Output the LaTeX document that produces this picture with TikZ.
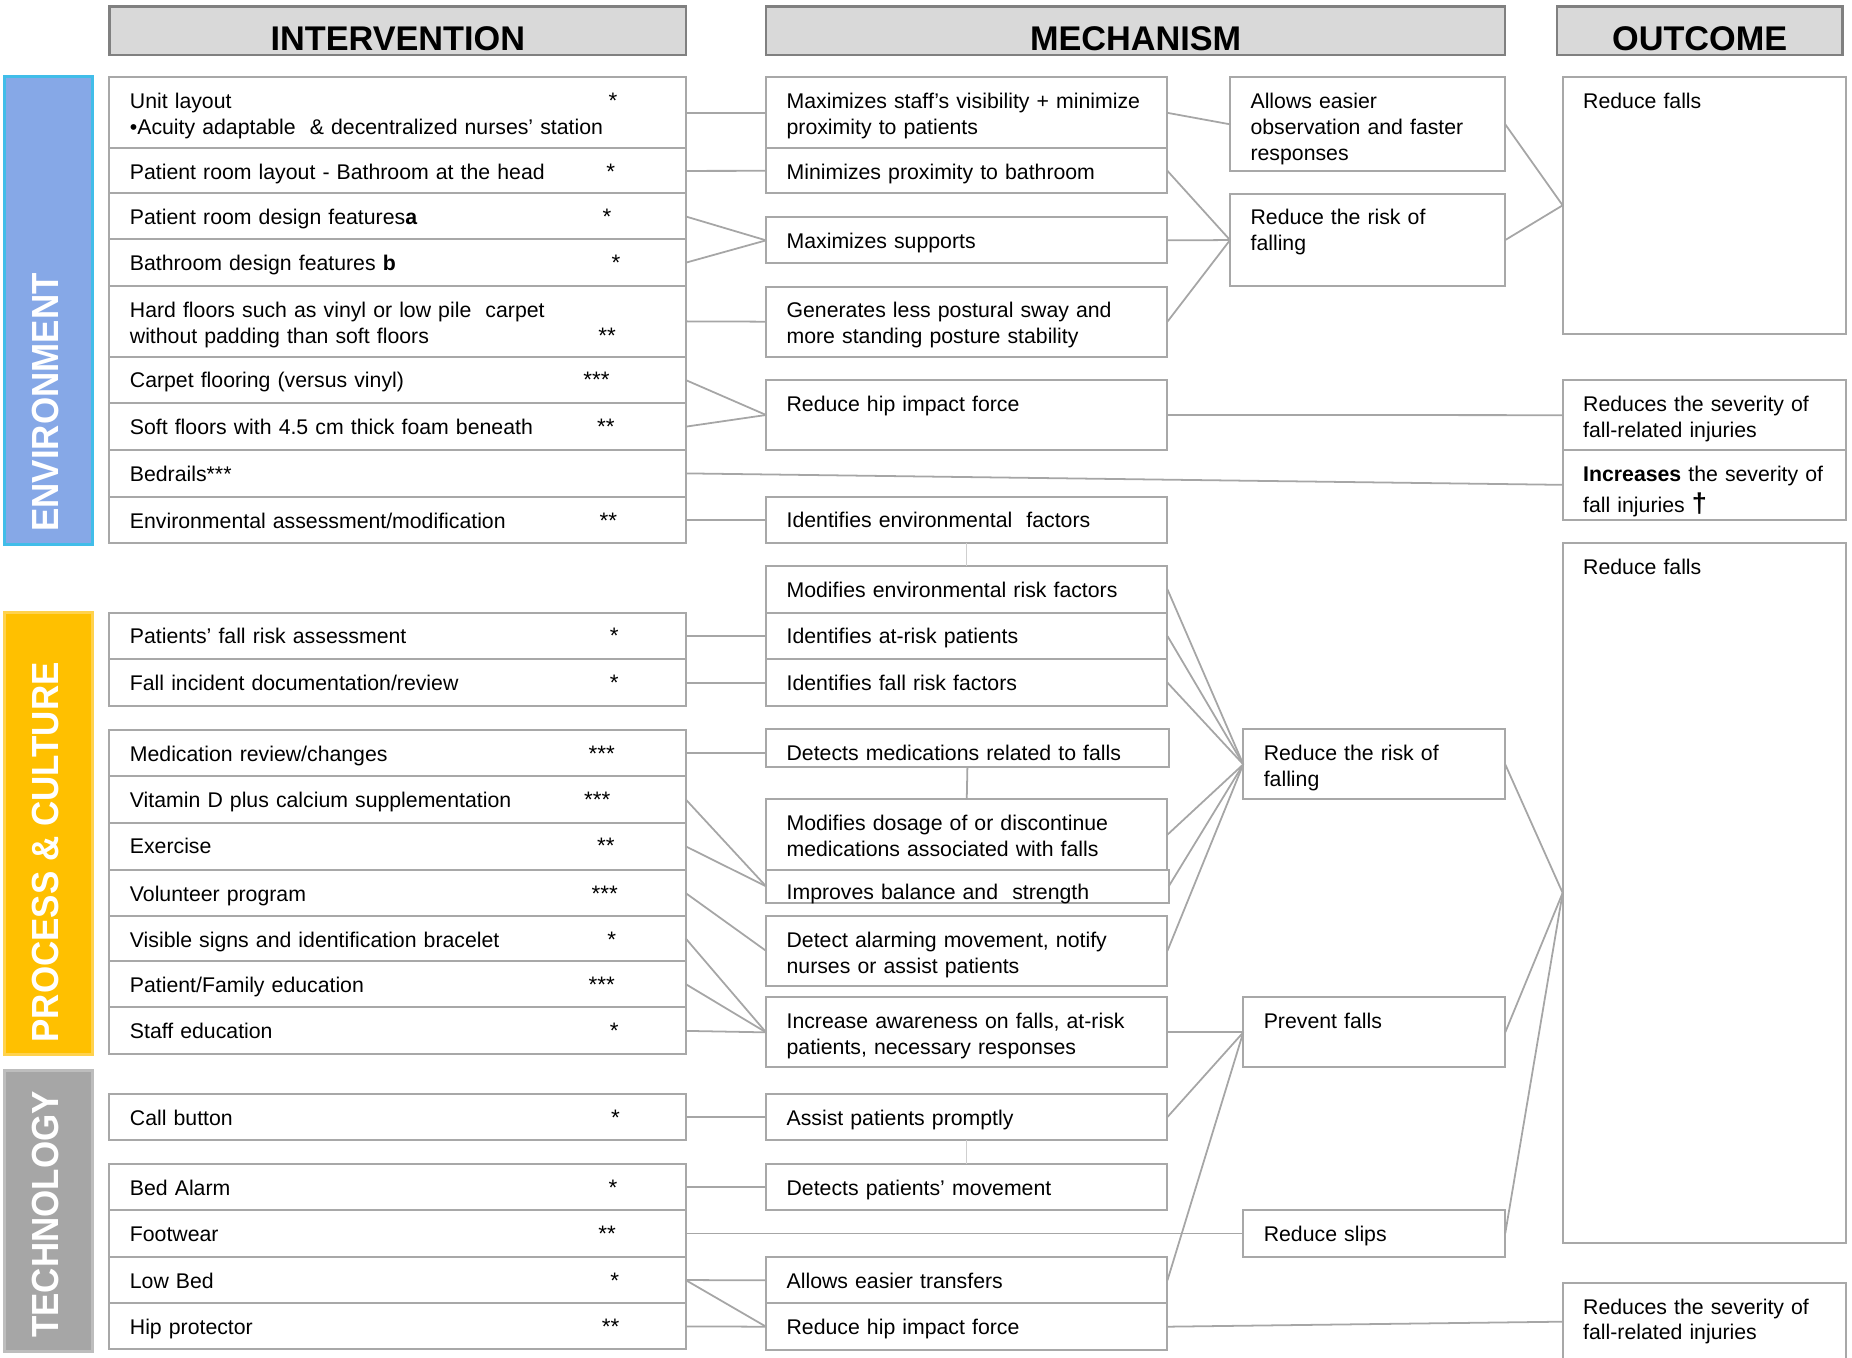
\documentclass[tikz,border=0pt]{standalone}
\usepackage{fontspec}
\setmainfont{Liberation Sans}
\usetikzlibrary{fit}
\definecolor{boxgray}{HTML}{A8A8A8}
\definecolor{linegray}{HTML}{A6A6A6}
\definecolor{lightline}{HTML}{CFCFCF}
\definecolor{hdrfill}{HTML}{D9D9D9}
\definecolor{hdrdraw}{HTML}{808080}
\definecolor{envfill}{HTML}{86A8E7}
\definecolor{envdraw}{HTML}{41BDE9}
\definecolor{procfill}{HTML}{FFC000}
\definecolor{procdraw}{HTML}{FFD24D}
\definecolor{techfill}{HTML}{A6A6A6}
\definecolor{techdraw}{HTML}{BDBDBD}
\newcommand\mkbox[6]{\node[box, fit={(#2,#3) (#4,#5)}] (#1) {};\node[txt] at ([shift={(17.4,26.5)}]#1.north west) {#6};}
\newcommand\mkstar[3]{\node[startxt] at (#1,#2) {#3};}
\begin{document}
\begin{tikzpicture}[x=0.5pt,y=-0.5pt,
  box/.style={draw=boxgray, line width=0.85pt, inner sep=0pt, outer sep=0pt, fill=white},
  txt/.style={anchor=base west, inner sep=0pt, outer sep=0pt, text width=240pt, align=left, font=\fontsize{9}{11}\selectfont},
  startxt/.style={anchor=base, inner sep=0pt, outer sep=0pt, font=\fontsize{9.5}{11}\selectfont},
  hdr/.style={draw=hdrdraw, fill=hdrfill, line width=1pt, inner sep=0pt, outer sep=0pt},
  hdrtxt/.style={anchor=base, inner sep=0pt, font=\fontsize{14.5}{17}\selectfont\bfseries},
  cat/.style={line width=1.2pt, inner sep=0pt, outer sep=0pt},
  cattxt/.style={rotate=90, anchor=west, inner sep=0pt, text=white, yscale=1.08, font=\fontsize{14.8}{17}\selectfont\bfseries},
  conn/.style={draw=linegray, line width=0.75pt},
  lconn/.style={draw=lightline, line width=0.6pt}]
\useasboundingbox (0,0) rectangle (1568,1149);
\clip (0,0) rectangle (1568,1149);

% headers
\node[hdr, fit={(92.6,5.6) (581,46.6)}] (H1) {};
\node[hdr, fit={(648.6,5.6) (1274.4,46.6)}] (H2) {};
\node[hdr, fit={(1318,5.6) (1560,46.6)}] (H3) {};
\node[hdrtxt] at ([shift={(0,-3.6)}]H1.south) {INTERVENTION};
\node[hdrtxt] at ([shift={(0,-3.6)}]H2.south) {MECHANISM};
\node[hdrtxt] at ([shift={(0,-3.6)}]H3.south) {OUTCOME};

% category bars
\node[cat, draw=envdraw, fill=envfill, fit={(3.8,65) (78,461)}] (B1) {};
\node[cat, draw=procdraw, fill=procfill, fit={(3.8,518.7) (78,893)}] (B2) {};
\node[cat, draw=techdraw, fill=techfill, fit={(3.8,906) (78,1144)}] (B3) {};
\node[cattxt] at (38.5,450.5) {ENVIRONMENT};
\node[cattxt] at (38.5,883) {PROCESS \& CULTURE};
\node[cattxt] at (38.5,1133) {TECHNOLOGY};

% intervention boxes
\mkbox{I1}{92.6}{65.5}{580.5}{125.6}{Unit layout\\•Acuity adaptable~ \& decentralized nurses’ station}
\mkbox{I2}{92.6}{125.6}{580.5}{163.8}{Patient room layout - Bathroom at the head}
\mkbox{I3}{92.6}{163.8}{580.5}{202.7}{Patient room design features\textbf{a}}
\mkbox{I4}{92.6}{202.7}{580.5}{242.2}{Bathroom design features \textbf{b}}
\mkbox{I5}{92.6}{242.2}{580.5}{302}{Hard floors such as vinyl or low pile~ carpet\\without padding than soft floors}
\mkbox{I6}{92.6}{302}{580.5}{341.5}{Carpet flooring (versus vinyl)}
\mkbox{I7}{92.6}{341.5}{580.5}{381}{Soft floors with 4.5 cm thick foam beneath}
\mkbox{I8}{92.6}{381}{580.5}{420.6}{Bedrails***}
\mkbox{I9}{92.6}{420.6}{580.5}{460}{Environmental assessment/modification}
\mkbox{I10}{92.6}{518.7}{580.5}{558.2}{Patients’ fall risk assessment}
\mkbox{I11}{92.6}{558.2}{580.5}{597.7}{Fall incident documentation/review}
\mkbox{I12}{92.6}{618}{580.5}{657}{Medication review/changes}
\mkbox{I13}{92.6}{657}{580.5}{696.5}{Vitamin D plus calcium supplementation}
\mkbox{I14}{92.6}{696.5}{580.5}{736.6}{Exercise}
\mkbox{I15}{92.6}{736.6}{580.5}{775.6}{Volunteer program}
\mkbox{I16}{92.6}{775.6}{580.5}{813.4}{Visible signs and identification bracelet}
\mkbox{I17}{92.6}{813.4}{580.5}{852.9}{Patient/Family education}
\mkbox{I18}{92.6}{852.9}{580.5}{892.7}{Staff education}
\mkbox{I19}{92.6}{926.3}{580.5}{965.2}{Call button}
\mkbox{I20}{92.6}{985.5}{580.5}{1024.5}{Bed Alarm}
\mkbox{I21}{92.6}{1024.5}{580.5}{1064}{Footwear}
\mkbox{I22}{92.6}{1064}{580.5}{1103.5}{Low Bed}
\mkbox{I23}{92.6}{1103.5}{580.5}{1142.5}{Hip protector}

% stars
\mkstar{519}{92}{*}
\mkstar{517}{152.1}{*}
\mkstar{514}{190.3}{*}
\mkstar{521.6}{229.2}{*}
\mkstar{514}{290.7}{**}
\mkstar{505}{328.5}{***}
\mkstar{513}{368}{**}
\mkstar{515}{447.1}{**}
\mkstar{520}{545.2}{*}
\mkstar{520}{584.7}{*}
\mkstar{509.5}{644.5}{***}
\mkstar{505.7}{683.5}{***}
\mkstar{513}{723}{**}
\mkstar{512}{763.1}{***}
\mkstar{518}{802.1}{*}
\mkstar{509.5}{839.9}{***}
\mkstar{520}{879.4}{*}
\mkstar{521}{952.8}{*}
\mkstar{519}{1012}{*}
\mkstar{514}{1051}{**}
\mkstar{520.5}{1090.5}{*}
\mkstar{517}{1130}{**}

% mechanism boxes
\mkbox{M1}{648.6}{65.5}{988.4}{125.6}{Maximizes staff’s visibility + minimize\\proximity to patients}
\mkbox{M2}{648.6}{125.6}{988.4}{163.7}{Minimizes proximity to bathroom}
\mkbox{M3}{648.6}{184}{988.4}{223}{Maximizes supports}
\mkbox{M4}{648.6}{242.7}{988.4}{302}{Generates less postural sway and\\more standing posture stability}
\mkbox{M5}{648.6}{321.7}{988.4}{381}{Reduce hip impact force}
\mkbox{M6}{648.6}{420.5}{988.4}{460}{Identifies environmental~ factors}
\mkbox{M7}{648.6}{479.2}{988.4}{518.7}{Modifies environmental risk factors}
\mkbox{M8}{648.6}{518.7}{988.4}{558.2}{Identifies at-risk patients}
\mkbox{M9}{648.6}{558.2}{988.4}{597.7}{Identifies fall risk factors}
\mkbox{M10}{648.6}{617.5}{989.5}{649.7}{Detects medications related to falls}
\mkbox{M11}{648.6}{676.8}{988.4}{736.6}{Modifies dosage of or discontinue\\medications associated with falls}
\node[box, fit={(648.6,736.6) (989.5,764.2)}] (M12) {};
\node[txt] at ([shift={(17.4,25)}]M12.north west) {Improves balance and~ strength};
\mkbox{M13}{648.6}{775.6}{988.4}{834.5}{Detect alarming movement, notify\\nurses or assist patients}
\mkbox{M14}{648.6}{844.4}{988.4}{903.7}{Increase awareness on falls, at-risk\\patients, necessary responses}
\mkbox{M15}{648.6}{926.3}{988.4}{965.2}{Assist patients promptly}
\mkbox{M16}{648.6}{985.5}{988.4}{1024.5}{Detects patients’ movement}
\mkbox{M17}{648.6}{1064.5}{988.4}{1103.5}{Allows easier transfers}
\mkbox{M18}{648.6}{1103.5}{988.4}{1143}{Reduce hip impact force}

% second mechanism column
\mkbox{N1}{1041.4}{65.5}{1274.4}{145}{Allows easier\\observation and faster\\responses}
\mkbox{N2}{1041.4}{164}{1274.4}{242.5}{Reduce the risk of\\falling}
\mkbox{N3}{1052.6}{617.5}{1274.4}{676.8}{Reduce the risk of\\falling}
\mkbox{N4}{1052.6}{844.4}{1274.4}{903.7}{Prevent falls}
\mkbox{N5}{1052.6}{1024.5}{1274.4}{1064}{Reduce slips}

% outcome boxes
\mkbox{O1}{1323}{65}{1563}{282.7}{Reduce falls}
\mkbox{O2}{1323}{322}{1563}{381}{Reduces the severity of\\fall-related injuries}
\mkbox{O3}{1323}{381}{1563}{440}{\textbf{Increases} the severity of\\[2pt]fall injuries {\fontsize{11.5}{11}\selectfont\textbf{†}}}
\mkbox{O4}{1323}{460}{1563}{1052}{Reduce falls}
\mkbox{O5}{1323}{1086}{1563}{1152}{Reduces the severity of\\fall-related injuries}

% connectors: intervention -> mechanism / outcome
\draw[conn] (I1.east) -- (M1.west);
\draw[conn] (I2.east) -- (M2.west);
\draw[conn] (I3.east) -- (M3.west);
\draw[conn] (I4.east) -- (M3.west);
\draw[conn] (I5.east) -- (M4.west);
\draw[conn] (I6.east) -- (M5.west);
\draw[conn] (I7.east) -- (M5.west);
\draw[conn] (I8.east) -- (O3.west);
\draw[conn] (I9.east) -- (M6.west);
\draw[conn] (I10.east) -- (M8.west);
\draw[conn] (I11.east) -- (M9.west);
\draw[conn] (I12.east) -- (I12.east -| M10.west);
\draw[conn] (I13.east) -- (M12.west);
\draw[conn] (I14.east) -- (M12.west);
\draw[conn] (I15.east) -- (M13.west);
\draw[conn] (I16.east) -- (M14.west);
\draw[conn] (I17.east) -- (M14.west);
\draw[conn] (I18.east) -- (M14.west);
\draw[conn] (I19.east) -- (M15.west);
\draw[conn] (I20.east) -- (M16.west);
\draw[conn] (I21.east) -- (N5.west);
\draw[conn] (I22.east) -- (M17.west);
\draw[conn] (I22.east) -- (M18.west);
\draw[conn] (I23.east) -- (M18.west);

% mechanism -> mechanism
\draw[lconn] (M6.south) -- (M7.north);
\draw[conn] (M10.south) -- (M11.north);
\draw[lconn] (M15.south) -- (M16.north);

% mechanism -> second column / outcome
\draw[conn] (M1.east) -- (N1.west);
\draw[conn] (M2.east) -- (N2.west);
\draw[conn] (M3.east) -- (N2.west);
\draw[conn] (M4.east) -- (N2.west);
\draw[conn] (M5.east) -- (O2.west);
\draw[conn] (M7.east) -- (N3.west);
\draw[conn] (M8.east) -- (N3.west);
\draw[conn] (M9.east) -- (N3.west);
\draw[conn] (M11.east) -- (N3.west);
\draw[conn] (M12.east) -- (N3.west);
\draw[conn] (M13.east) -- (N3.west);
\draw[conn] (M14.east) -- (N4.west);
\draw[conn] (M15.east) -- (N4.west);
\draw[conn] (M17.east) -- (N4.west);
\draw[conn] (M18.east) -- (O5.west);

% second column -> outcome
\draw[conn] (N1.east) -- (O1.west);
\draw[conn] (N2.east) -- (O1.west);
\draw[conn] (N3.east) -- (O4.west);
\draw[conn] (N4.east) -- (O4.west);
\draw[conn] (N5.east) -- (O4.west);
\end{tikzpicture}
\end{document}
